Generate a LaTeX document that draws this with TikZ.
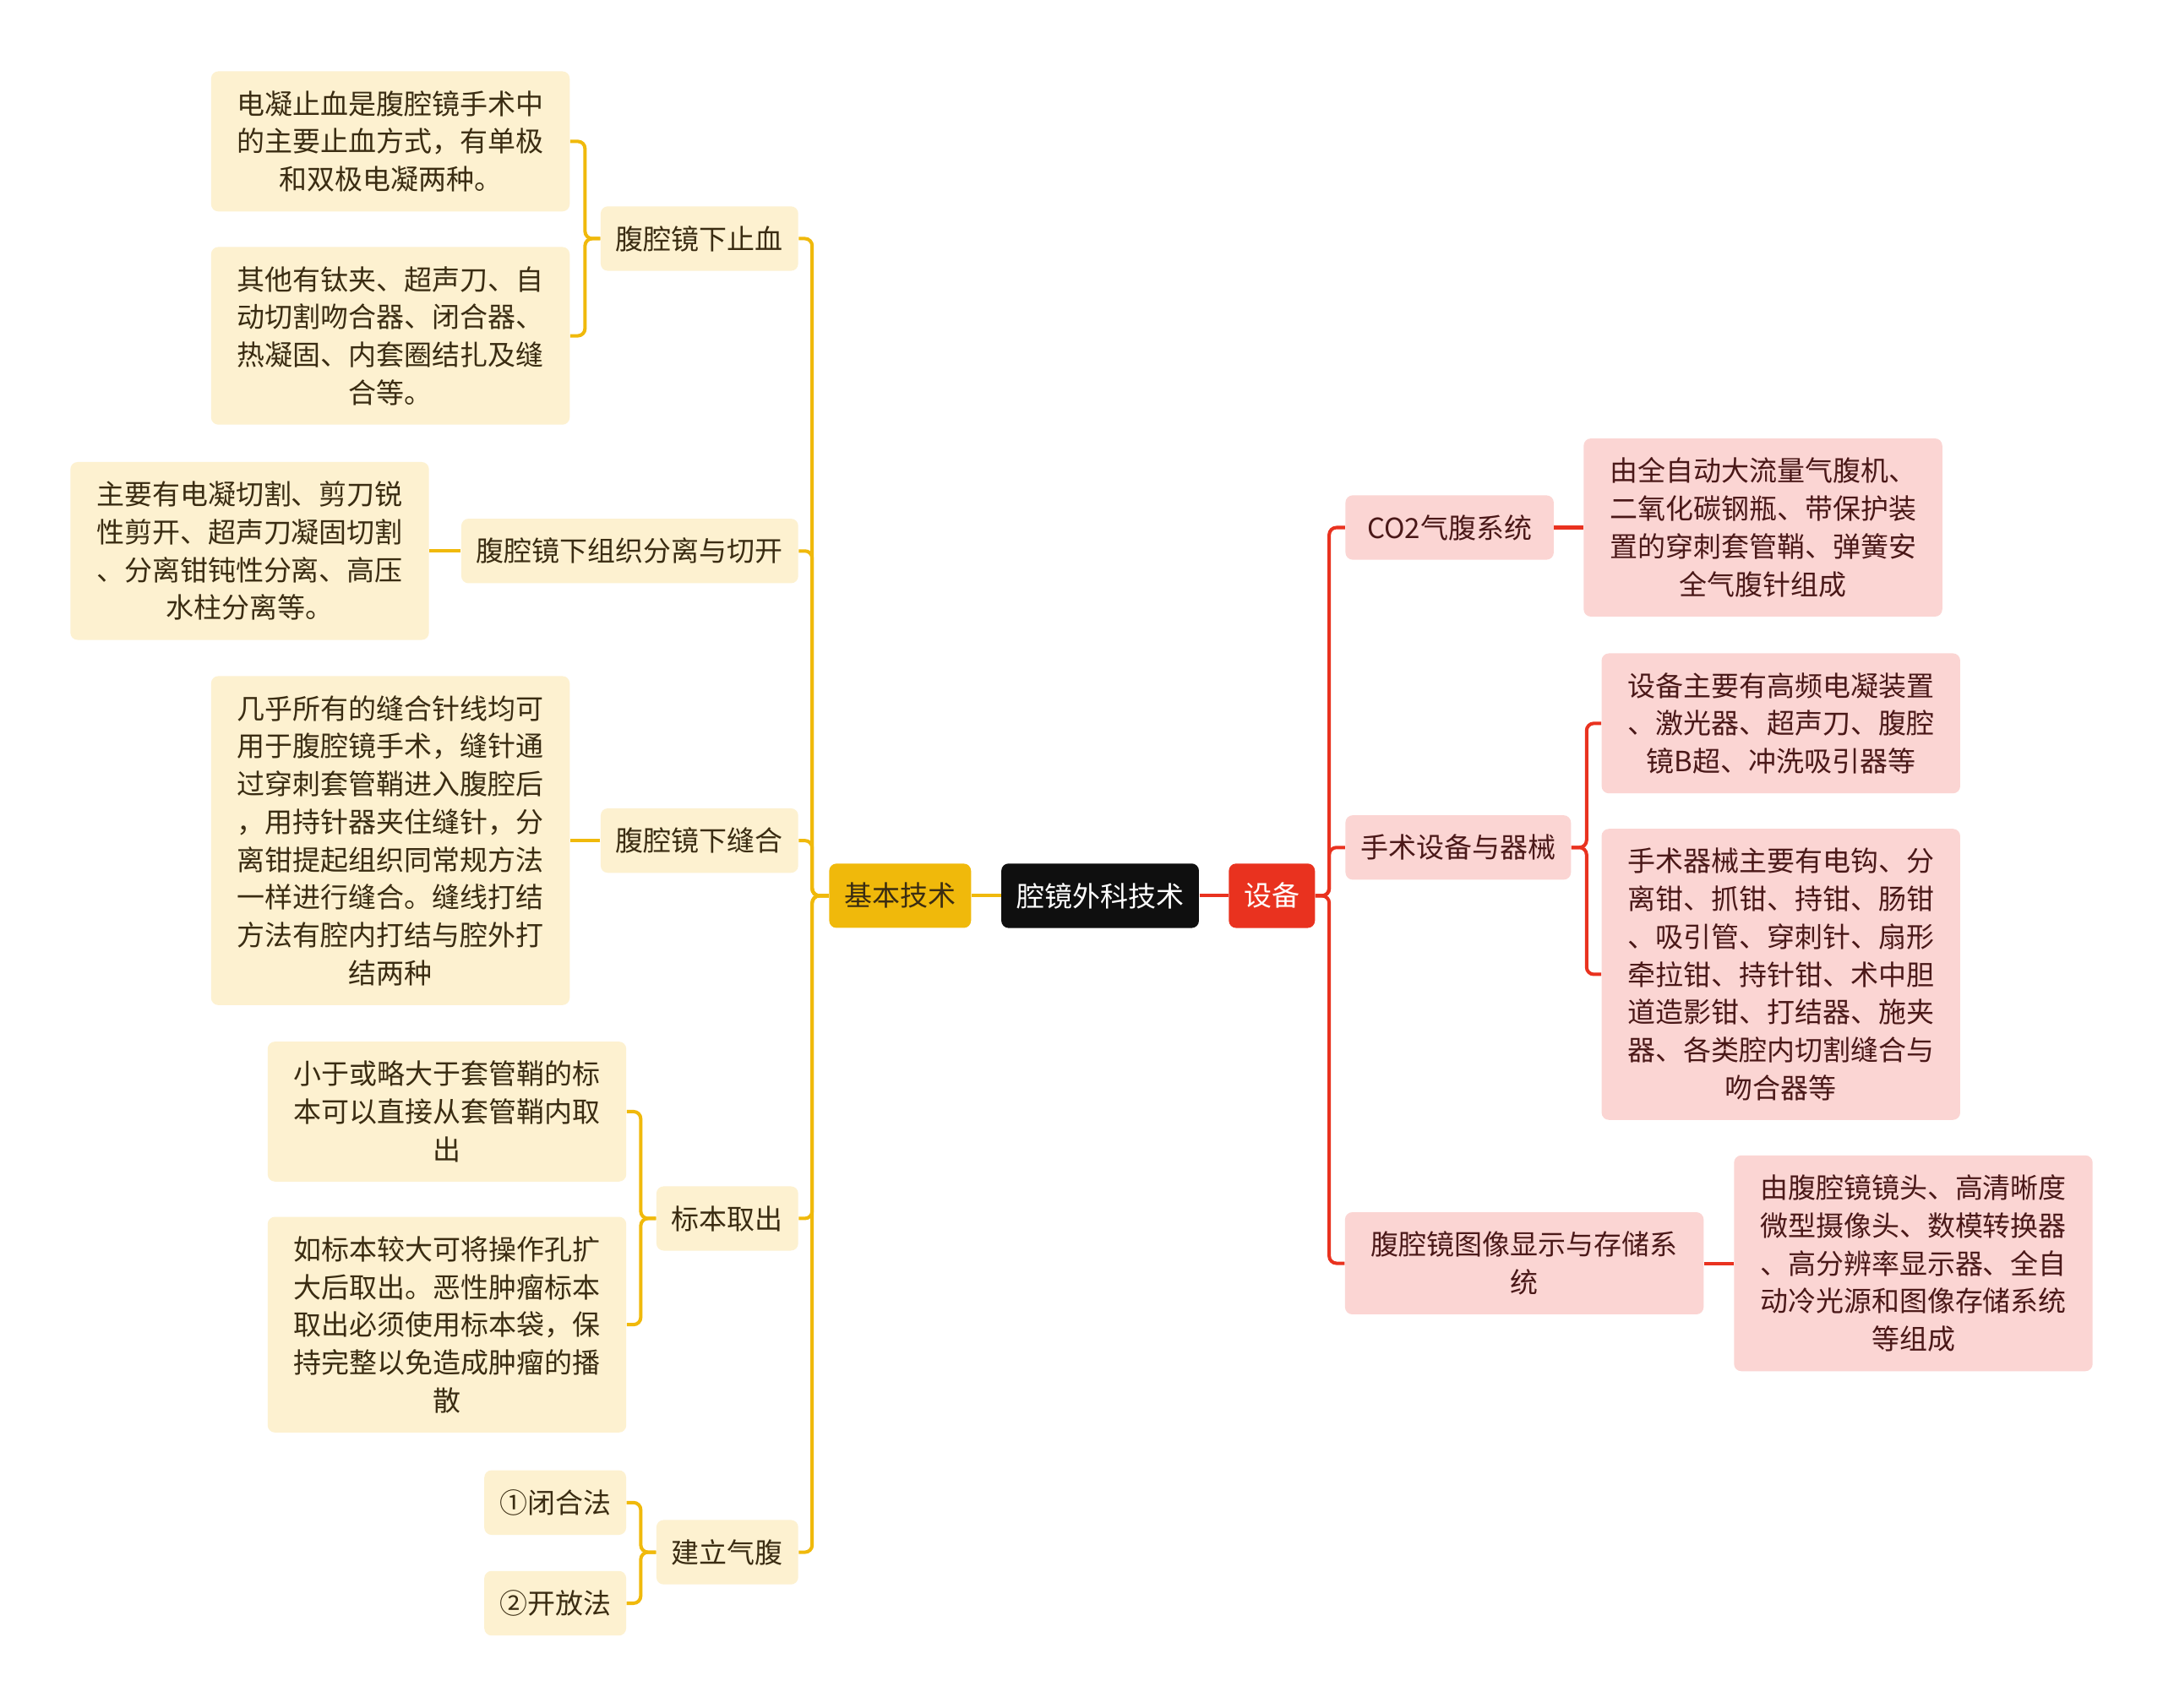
\documentclass[tikz,border=0pt]{standalone}
\usepackage{fontspec}
\setmainfont{Noto Sans CJK SC}
\definecolor{jbyellow}{HTML}{F0B90B}
\definecolor{ylight}{HTML}{FDF1D0}
\definecolor{ytext}{HTML}{3A2C12}
\definecolor{sbred}{HTML}{E9321F}
\definecolor{plight}{HTML}{FBD5D3}
\definecolor{ptext}{HTML}{4A1818}
\definecolor{rootblack}{HTML}{0F0F0F}

\begin{document}
\begin{tikzpicture}[x=0.02cm,y=-0.02cm,
  font=\fontsize{11.5pt}{15.6pt}\selectfont,
  base/.style={rounded corners=3pt,inner xsep=0.22cm,inner ysep=0.28cm,align=center},
  ybox/.style={base,fill=ylight,text=ytext},
  pbox/.style={base,fill=plight,text=ptext},
  ynote/.style={ybox,text width=4.5cm,inner xsep=0.35cm},
  pnote/.style={pbox,text width=4.5cm,inner xsep=0.35cm},
  yline/.style={draw=jbyellow,line width=1.4pt,rounded corners=3pt},
  rline/.style={draw=sbred,line width=1.4pt,rounded corners=3pt}]
  \path[use as bounding box,fill=white] (0,0) rectangle (1568,1238);

  % centre and the two main branches
  \node[base,fill=rootblack,text=white] (root) at (797.5,649.5) {腔镜外科技术};
  \node[base,fill=jbyellow,text=ytext] (jbjs) at (652.5,649.5) {基本技术};
  \node[base,fill=sbred,text=white] (sb) at (922,649.5) {设备};
  \draw[yline] (root.west) -- (jbjs.east);
  \draw[rline] (root.east) -- (sb.west);

  % 基本技术
  \node[ybox,anchor=east] (zx) at (579,173) {腹腔镜下止血};
  \node[ybox,anchor=east] (fl) at (579,399.5) {腹腔镜下组织分离与切开};
  \node[ybox,anchor=east] (fh) at (579,609.5) {腹腔镜下缝合};
  \node[ybox,anchor=east] (bb) at (579,883.5) {标本取出};
  \node[ybox,anchor=east] (qf) at (579,1125.5) {建立气腹};
  \foreach \c in {zx,fl,fh,bb,qf}
    \draw[yline] (jbjs.west) -- ++(-12,0) |- (\c.east);

  \node[ynote] (zx1) at (283,102.5) {电凝止血是腹腔镜手术中\\的主要止血方式，有单极\\和双极电凝两种。};
  \node[ynote] (zx2) at (283,243.5) {其他有钛夹、超声刀、自\\动切割吻合器、闭合器、\\热凝固、内套圈结扎及缝\\合等。};
  \foreach \c in {zx1,zx2}
    \draw[yline] (zx.west) -- ++(-11,0) |- (\c.east);

  \node[ynote] (fl1) at (181,399.5) {主要有电凝切割、剪刀锐\\性剪开、超声刀凝固切割\\、分离钳钝性分离、高压\\水柱分离等。};
  \draw[yline] (fl.west) -- (fl1.east);

  \node[ynote] (fh1) at (283,609.5) {几乎所有的缝合针线均可\\用于腹腔镜手术，缝针通\\过穿刺套管鞘进入腹腔后\\，用持针器夹住缝针，分\\离钳提起组织同常规方法\\一样进行缝合。缝线打结\\方法有腔内打结与腔外打\\结两种};
  \draw[yline] (fh.west) -- (fh1.east);

  \node[ynote] (bb1) at (324,806) {小于或略大于套管鞘的标\\本可以直接从套管鞘内取\\出};
  \node[ynote] (bb2) at (324,960.5) {如标本较大可将操作孔扩\\大后取出。恶性肿瘤标本\\取出必须使用标本袋，保\\持完整以免造成肿瘤的播\\散};
  \foreach \c in {bb1,bb2}
    \draw[yline] (bb.west) -- ++(-11,0) |- (\c.east);

  \node[ybox] (qf1) at (402.5,1089.5) {①闭合法};
  \node[ybox] (qf2) at (402.5,1162.5) {②开放法};
  \foreach \c in {qf1,qf2}
    \draw[yline] (qf.west) -- ++(-11,0) |- (\c.east);

  % 设备
  \node[pbox,anchor=west,minimum width=3.02cm] (co2) at (975,382.5) {CO2气腹系统};
  \node[pbox,anchor=west] (ss) at (975,614.5) {手术设备与器械};
  \node[pnote] (tx) at (1105,916) {腹腔镜图像显示与存储系\\统};
  \foreach \c in {co2,ss,tx}
    \draw[rline] (sb.east) -- ++(10,0) |- (\c.west);

  \node[pnote] (co21) at (1278,382.5) {由全自动大流量气腹机、\\二氧化碳钢瓶、带保护装\\置的穿刺套管鞘、弹簧安\\全气腹针组成};
  \draw[rline] (co2.east) -- (co21.west);

  \node[pnote] (ss1) at (1291,524.5) {设备主要有高频电凝装置\\、激光器、超声刀、腹腔\\镜B超、冲洗吸引器等};
  \node[pnote] (ss2) at (1291,706.5) {手术器械主要有电钩、分\\离钳、抓钳、持钳、肠钳\\、吸引管、穿刺针、扇形\\牵拉钳、持针钳、术中胆\\道造影钳、打结器、施夹\\器、各类腔内切割缝合与\\吻合器等};
  \foreach \c in {ss1,ss2}
    \draw[rline] (ss.east) -- ++(11,0) |- (\c.west);

  \node[pnote] (tx1) at (1387,916) {由腹腔镜镜头、高清晰度\\微型摄像头、数模转换器\\、高分辨率显示器、全自\\动冷光源和图像存储系统\\等组成};
  \draw[rline] (tx.east) -- (tx1.west);
\end{tikzpicture}
\end{document}
